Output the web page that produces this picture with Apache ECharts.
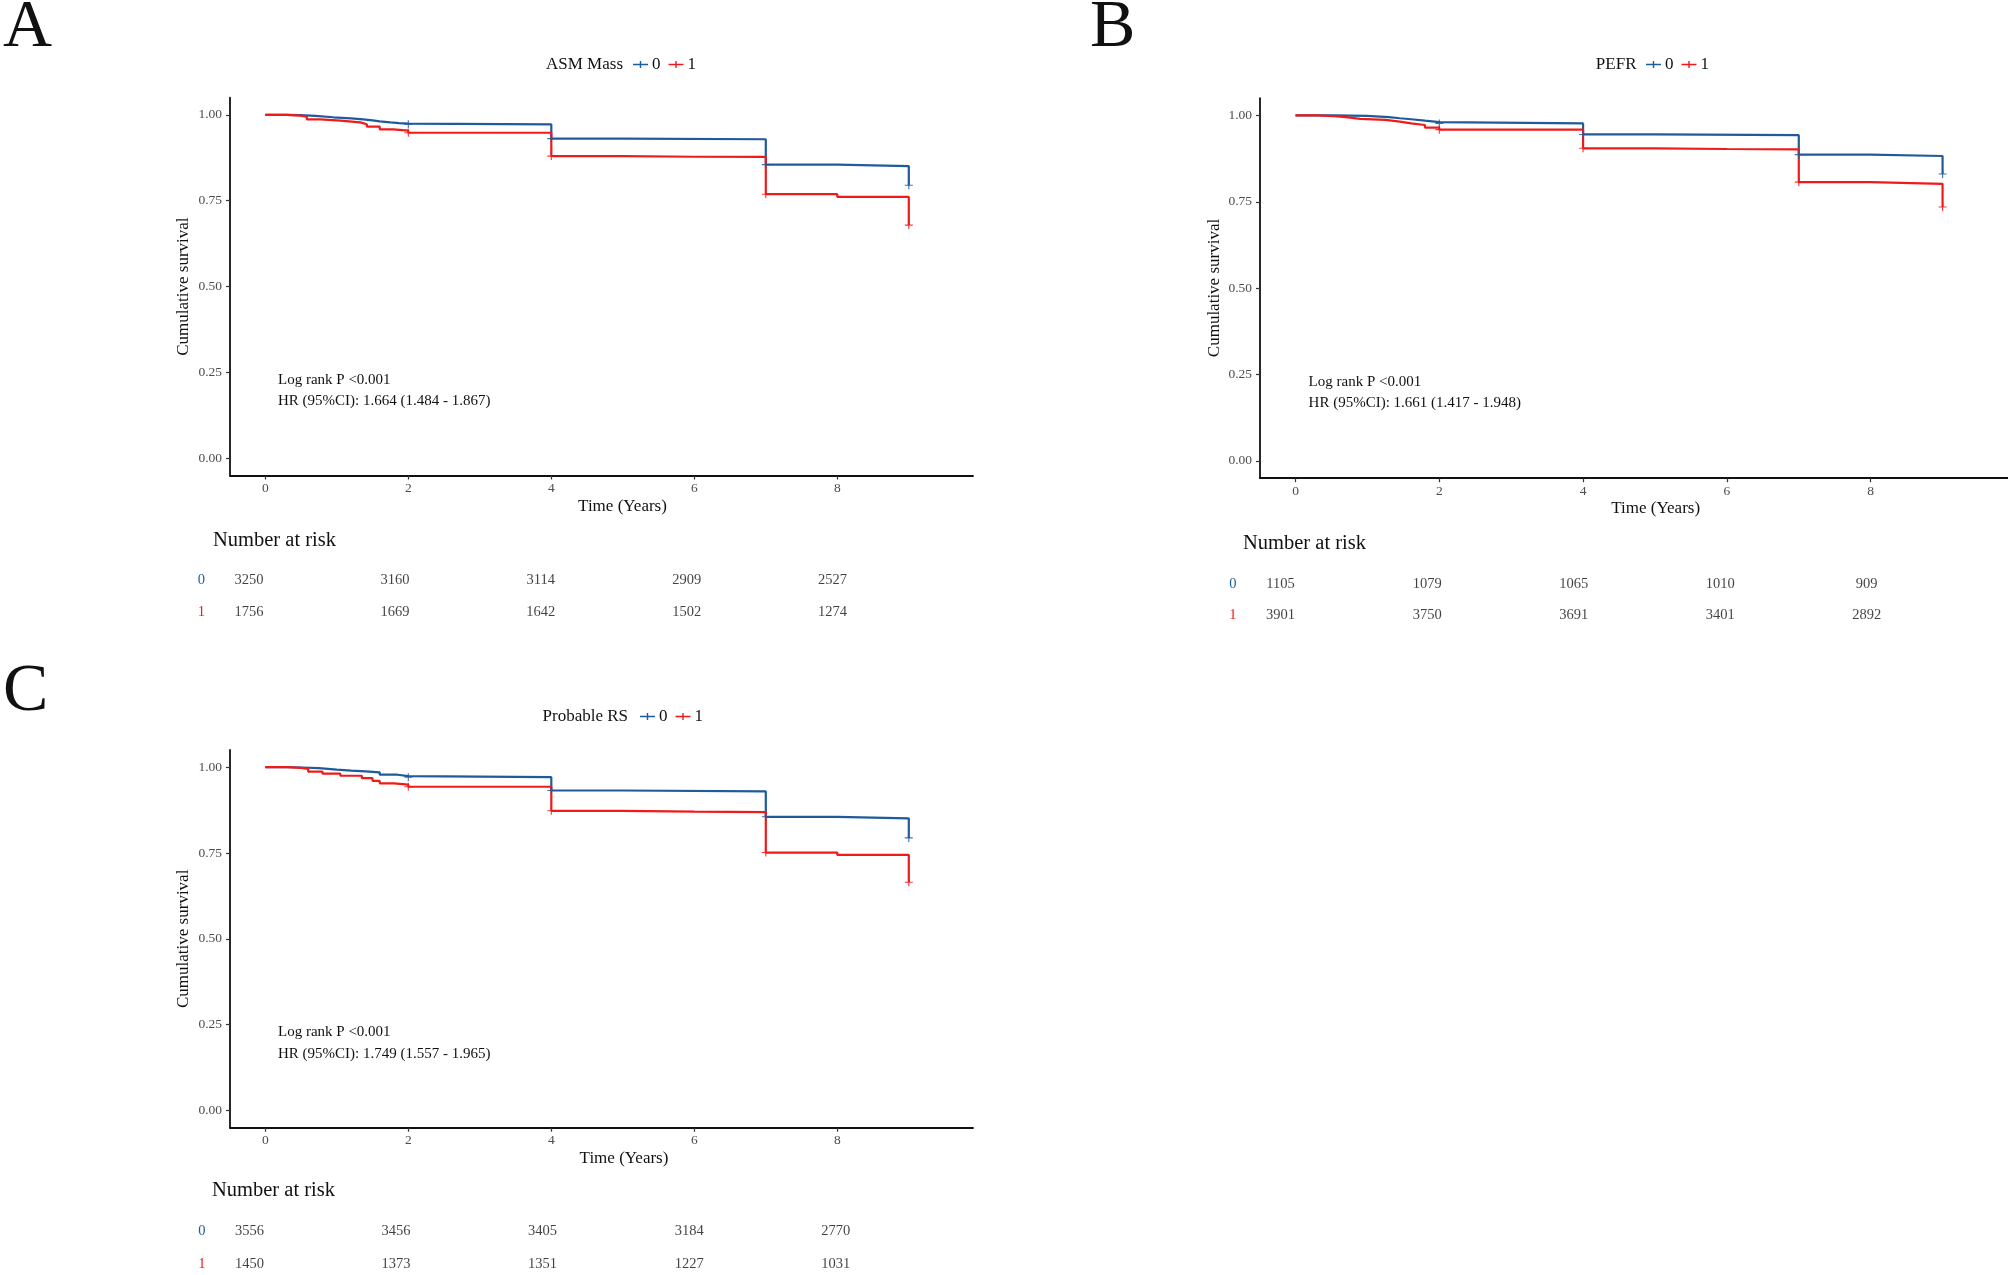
<!DOCTYPE html>
<html>
<head>
<meta charset="utf-8">
<script src="https://cdn.jsdelivr.net/npm/echarts@6/dist/echarts.min.js"></script>
<style>
html,body{margin:0;padding:0;background:#fff;}
#main{width:2008px;height:1275px;}
</style>
</head>
<body>
<div id="main"></div>
<script>
// ---------- data (time in years, cumulative survival) ----------
const asm0 = [[0,1],[0.3,0.999],[0.49,0.997],[0.7,0.993],[0.95,0.990],[1.2,0.987],[1.37,0.984],[1.5,0.981],[1.6,0.978],[1.75,0.976],[1.87,0.9745],[2.0,0.9726],[4.0,0.9307],[5.0,0.929],[7.0,0.855],[8.0,0.851],[9.0,0.795]];
const asm1 = [[0,1],[0.3,0.998],[0.49,0.995],[0.58,0.987],[0.77,0.983],[1.05,0.978],[1.33,0.9726],[1.42,0.966],[1.6,0.958],[1.79,0.954],[2.0,0.948],[4.0,0.880],[5.0,0.878],[6.0,0.8775],[7.0,0.769],[8.0,0.761],[9.0,0.679]];
const pefr0 = [[0,1],[0.54,0.999],[0.99,0.995],[1.3,0.992],[1.45,0.989],[1.61,0.985],[1.8,0.981],[2.0,0.977],[4.0,0.945],[5.0,0.943],[7.0,0.8865],[8.0,0.8827],[9.0,0.8307]];
const pefr1 = [[0,1],[0.3,0.998],[0.54,0.995],[0.7,0.990],[0.9,0.987],[1.25,0.982],[1.45,0.977],[1.61,0.9725],[1.8,0.965],[2.0,0.959],[4.0,0.905],[5.0,0.903],[6.0,0.902],[7.0,0.807],[8.0,0.802],[9.0,0.735]];
const rs0 = [[0,1],[0.3,0.999],[0.5,0.997],[0.75,0.993],[1.0,0.990],[1.2,0.988],[1.4,0.985],[1.6,0.978],[1.85,0.974],[2.0,0.971],[4.0,0.932],[5.0,0.9295],[7.0,0.8555],[8.0,0.851],[9.0,0.794]];
const rs1 = [[0,1],[0.3,0.998],[0.5,0.995],[0.6,0.987],[0.8,0.981],[1.05,0.975],[1.35,0.968],[1.5,0.960],[1.6,0.953],[1.8,0.949],[2.0,0.943],[4.0,0.873],[5.0,0.8705],[6.0,0.869],[7.0,0.7514],[8.0,0.7445],[9.0,0.665]];

// censoring marks shown on curves
const censorTimes = [2,4,7,9];

// number at risk
const riskTimes = [0,2,4,6,8];
const asmRisk0 = [3250,3160,3114,2909,2527];
const asmRisk1 = [1756,1669,1642,1502,1274];
const pefrRisk0 = [1105,1079,1065,1010,909];
const pefrRisk1 = [3901,3750,3691,3401,2892];
const rsRisk0 = [3556,3456,3405,3184,2770];
const rsRisk1 = [1450,1373,1351,1227,1031];

// tick labels
const xTicks = [0,2,4,6,8];
const yTicks = [0,0.25,0.5,0.75,1];
const groupNames = ['0','1'];

// texts
const panelLetters = ['A','B','C'];
const legendTitles = ['ASM Mass','PEFR','Probable RS'];
const pTexts = ['Log rank P <0.001','Log rank P <0.001','Log rank P <0.001'];
const hrTexts = ['HR (95%CI): 1.664 (1.484 - 1.867)','HR (95%CI): 1.661 (1.417 - 1.948)','HR (95%CI): 1.749 (1.557 - 1.965)'];

// ---------- layout / style ----------
const FONT = '"Liberation Serif","Times New Roman",serif';
const BLUE = '#1F5B9B', RED = '#F01A1A';

const panels = [
  {curves:[asm0,asm1],
   grid:{left:230, top:97.7, width:743, height:377.8}, xmax:9.898,
   risk:{left:249, top:580, width:583.5, height:32}, riskData:[asmRisk0,asmRisk1],
   letter:{x:3,y:28.5}, legTitle:{x:623,y:65}, legLeft:633,
   yTitle:{x:184,y:286.6}, xTitle:{x:622.5,y:507}, pText:{x:278,y:380}, hrText:{x:278,y:401},
   nar:{x:213,y:540.5}},
  {curves:[pefr0,pefr1],
   grid:{left:1260, top:98.2, width:748, height:380}, xmax:9.91,
   risk:{left:1280.6, top:584, width:586.1, height:31.5}, riskData:[pefrRisk0,pefrRisk1],
   letter:{x:1090,y:28.5}, legTitle:{x:1636.5,y:65}, legLeft:1646,
   yTitle:{x:1215,y:288}, xTitle:{x:1655.7,y:508.5}, pText:{x:1308.6,y:382}, hrText:{x:1308.6,y:403},
   nar:{x:1243,y:543.3}},
  {curves:[rs0,rs1],
   grid:{left:230, top:750, width:743, height:377.7}, xmax:9.898,
   risk:{left:249.4, top:1231, width:586.3, height:33}, riskData:[rsRisk0,rsRisk1],
   letter:{x:3,y:692}, legTitle:{x:628,y:717}, legLeft:640,
   yTitle:{x:184,y:938.8}, xTitle:{x:624,y:1159}, pText:{x:278,y:1032.5}, hrText:{x:278,y:1054},
   nar:{x:212,y:1190.5}}
];

const plusIcon = 'path://M0,3.3H15V4.7H0Z M6.8,0.5H8.2V7.5H6.8Z';
const plusSym = 'path://M0,4.3H10V5.7H0Z M4.3,0H5.7V10H4.3Z';

const grids = [], xAxes = [], yAxes = [], series = [], legends = [], graphics = [];

panels.forEach((p, i) => {
  // main grid
  const gi = grids.length;
  grids.push(Object.assign({containLabel:false}, p.grid));
  xAxes.push({gridIndex:gi, type:'value', min:-0.494, max:p.xmax,
    axisLine:{onZero:false, lineStyle:{color:'#111', width:1.8}},
    axisTick:{customValues:xTicks, length:4, lineStyle:{color:'#333', width:1.2}},
    axisLabel:{customValues:xTicks, color:'#4D4D4D', fontFamily:FONT, fontSize:13.5, margin:6},
    splitLine:{show:false}});
  yAxes.push({gridIndex:gi, type:'value', min:-0.05, max:1.05,
    axisLine:{show:true, onZero:false, lineStyle:{color:'#111', width:1.8}},
    axisTick:{show:true, customValues:yTicks, length:4, lineStyle:{color:'#333', width:1.2}},
    axisLabel:{customValues:yTicks, color:'#4D4D4D', fontFamily:FONT, fontSize:13.5, margin:8,
      formatter: v => v.toFixed(2)},
    splitLine:{show:false}});
  const cols = [BLUE, RED];
  p.curves.forEach((c, k) => {
    series.push({type:'line', name:groupNames[k], xAxisIndex:gi, yAxisIndex:gi, data:c, step:'end',
      showSymbol:false, symbol:'none', color:cols[k], lineStyle:{width:2.2, color:cols[k]}, silent:true, z:3});
    const cens = censorTimes.map(t => c.find(d => d[0] === t)).filter(Boolean);
    series.push({type:'scatter', name:'c'+k, xAxisIndex:gi, yAxisIndex:gi, data:cens, symbol:plusSym,
      symbolSize:8, itemStyle:{color:cols[k], opacity:0.85}, silent:true, z:4});
  });
  // risk table grid
  const ri = grids.length;
  grids.push(Object.assign({containLabel:false}, p.risk));
  xAxes.push({gridIndex:ri, type:'value', min:0, max:8, show:false});
  yAxes.push({gridIndex:ri, type:'value', min:0, max:1, interval:1,
    axisLine:{show:false}, axisTick:{show:false}, splitLine:{show:false},
    axisLabel:{margin:44, formatter: v => v === 1 ? '{b|' + groupNames[0] + '}' : '{r|' + groupNames[1] + '}',
      rich:{b:{color:BLUE, fontFamily:FONT, fontSize:14.5}, r:{color:RED, fontFamily:FONT, fontSize:14.5}}}});
  p.riskData.forEach((arr, k) => {
    series.push({type:'scatter', name:'r'+k, xAxisIndex:ri, yAxisIndex:ri, symbolSize:1,
      itemStyle:{color:'rgba(0,0,0,0)'}, silent:true, clip:false,
      data: riskTimes.map((t, j) => [t, k === 0 ? 1 : 0, arr[j]]),
      label:{show:true, position:'inside', formatter: q => String(q.value[2]),
        color:'#111', fontFamily:FONT, fontSize:14.5}});
  });
  // legend
  legends.push({data:groupNames, left:p.legLeft, top:p.legTitle.y - 9, icon:plusIcon,
    itemWidth:15, itemHeight:8, itemGap:8, selectedMode:false, padding:0,
    textStyle:{fontFamily:FONT, fontSize:17, color:'#111', padding:[0,0,0,-1]}});
  // texts
  const t = (x, y, text, size, align, extra) => Object.assign({type:'text', x:x, y:y, silent:true,
    style:{text:text, font: size + 'px ' + FONT, fill:'#111', textAlign:align || 'left', textVerticalAlign:'middle'}}, extra || {});
  graphics.push(t(p.letter.x, p.letter.y, panelLetters[i], 68));
  graphics.push(t(p.legTitle.x, p.legTitle.y, legendTitles[i], 17, 'right'));
  graphics.push(t(p.yTitle.x, p.yTitle.y, 'Cumulative survival', 17, 'center', {rotation:Math.PI/2}));
  graphics.push(t(p.xTitle.x, p.xTitle.y, 'Time (Years)', 17, 'center'));
  graphics.push(t(p.pText.x, p.pText.y, pTexts[i], 15));
  graphics.push(t(p.hrText.x, p.hrText.y, hrTexts[i], 15));
  graphics.push(t(p.nar.x, p.nar.y, 'Number at risk', 20.5));
});

const chart = echarts.init(document.getElementById('main'), null, {renderer:'canvas'});
chart.setOption({
  animation:false,
  backgroundColor:'#fff',
  grid:grids, xAxis:xAxes, yAxis:yAxes, series:series, legend:legends,
  graphic:{elements:graphics}
});
</script>
</body>
</html>
